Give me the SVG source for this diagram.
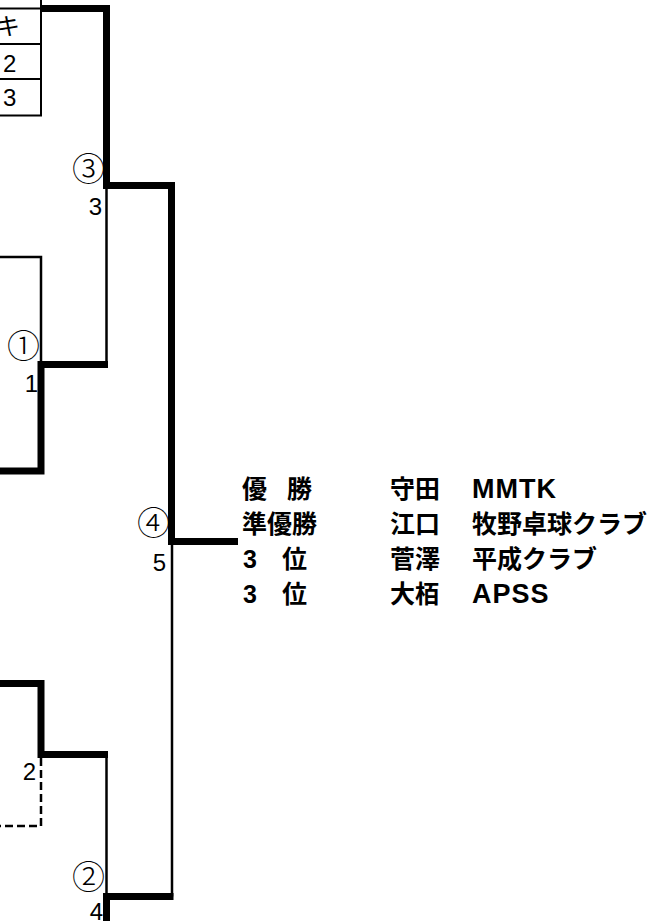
<svg xmlns="http://www.w3.org/2000/svg" width="651" height="921" viewBox="0 0 651 921">
<style>
.thick{fill:none;stroke:#000;stroke-width:7;stroke-linejoin:miter;stroke-linecap:butt}
.thin{fill:none;stroke:#000;stroke-width:2.5}
.dash{fill:none;stroke:#000;stroke-width:2.5;stroke-dasharray:8 4}
.cell{fill:none;stroke:#000;stroke-width:2}
.circ{font-family:"Noto Sans CJK JP","DejaVu Sans",sans-serif;font-size:33px;font-weight:300;fill:#000;text-anchor:end}
.num{font-family:"Liberation Sans",Arial,sans-serif;font-size:24px;fill:#000;text-anchor:end}
.tnum{font-family:"Liberation Sans",Arial,sans-serif;font-size:24px;fill:#000}
.kana{font-family:"Noto Sans CJK JP",sans-serif;font-size:24px;fill:#000}
.res{font-family:"Liberation Sans","Noto Sans CJK JP",sans-serif;font-size:25px;font-weight:bold;fill:#000}
.lat{font-size:27px;letter-spacing:1px}
</style>
<rect width="651" height="921" fill="#fff"/>
<g id="table">
<path class="cell" d="M0 8.5H41M0 44H41M0 79H41M0 115.5H41M41 0V116.5"/>
<text class="kana" x="-4" y="35">キ</text>
<text class="tnum" x="3" y="72">2</text>
<text class="tnum" x="3" y="106">3</text>
</g>
<g id="connectors">
<path class="thick" d="M42 8.5H106.5V185.5H171.5V541.5H238"/>
<path class="thin" d="M106.5 185.5V364.5"/>
<path class="thin" d="M0 257H41V364.5"/>
<path class="thick" d="M0 471H41V364.5H108"/>
<path class="thin" d="M172 541.5V896.5"/>
<path class="thick" d="M0 683.5H41V754.5H108"/>
<path class="thin" d="M106.5 754.5V896.5"/>
<path class="dash" d="M41 758V826H0"/>
<path class="thick" d="M106.5 921V896.5H173.5"/>
</g>
<g id="match3">
<text class="circ" x="105" y="181">③</text>
<text class="num" x="102" y="215">3</text>
</g>
<g id="match1">
<text class="circ" x="40" y="358">①</text>
<text class="num" x="38" y="392">1</text>
</g>
<g id="match4">
<text class="circ" x="170" y="535">④</text>
<text class="num" x="166" y="571">5</text>
</g>
<g id="match2lower">
<text class="num" x="36" y="780">2</text>
</g>
<g id="match2">
<text class="circ" x="105" y="889">②</text>
<text class="num" x="103" y="920">4</text>
</g>
<g id="results">
<text class="res" x="242" y="497.5">優 <tspan x="287">勝</tspan></text>
<text class="res" x="390" y="497.5">守田</text>
<text class="res lat" x="472" y="497.5">MMTK</text>
<text class="res" x="242" y="532.5">準優勝</text>
<text class="res" x="390" y="532.5">江口</text>
<text class="res" x="472" y="532.5">牧野卓球クラブ</text>
<text class="res" x="243" y="567.5">3 <tspan x="282">位</tspan></text>
<text class="res" x="390" y="567.5">菅澤</text>
<text class="res" x="472" y="567.5">平成クラブ</text>
<text class="res" x="243" y="602.5">3 <tspan x="282">位</tspan></text>
<text class="res" x="390" y="602.5">大栢</text>
<text class="res lat" x="472" y="602.5">APSS</text>
</g>
</svg>
